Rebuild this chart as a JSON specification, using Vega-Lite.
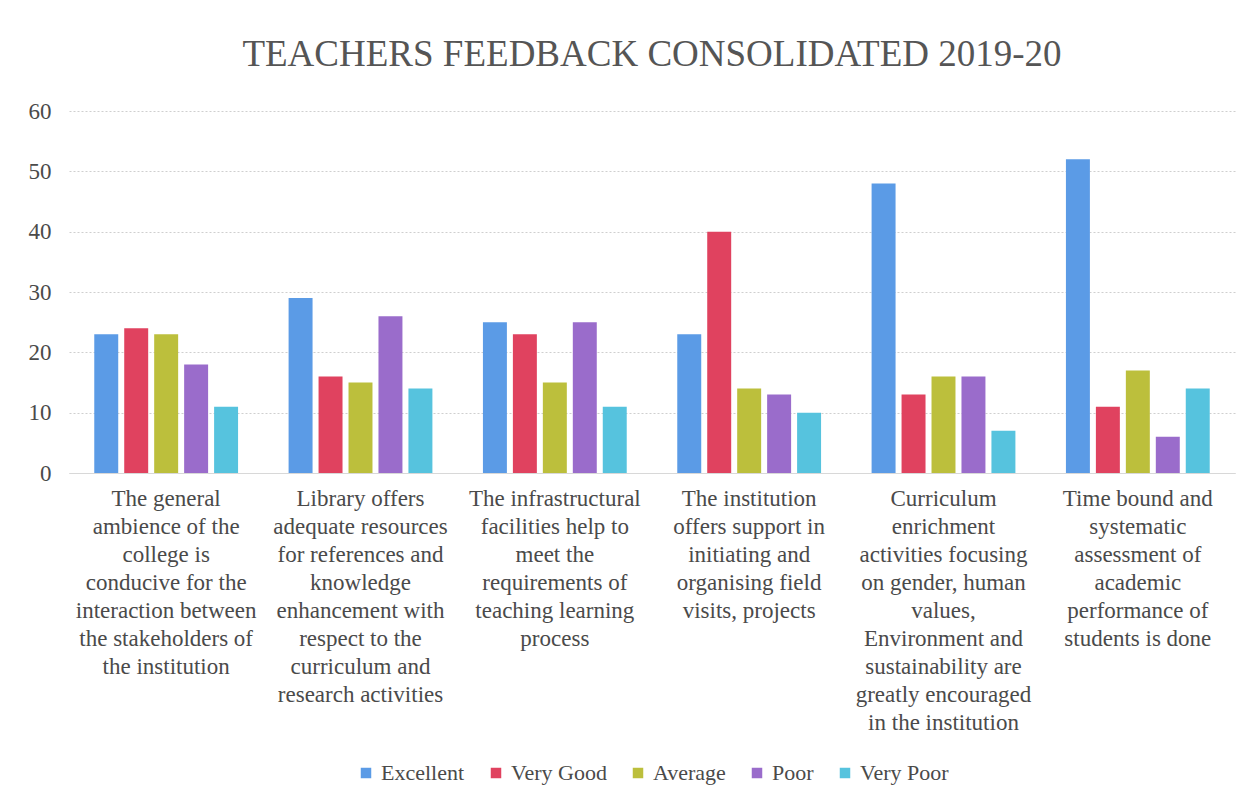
{
  "$schema": "https://vega.github.io/schema/vega-lite/v6.json",
  "width": 1245,
  "height": 800,
  "autosize": {"type": "fit", "contains": "padding"},
  "padding": {"left": 28, "top": 36, "right": 10, "bottom": 16},
  "background": "white",
  "title": {
    "text": "TEACHERS FEEDBACK CONSOLIDATED 2019-20",
    "font": "Liberation Serif, Times New Roman, serif",
    "fontSize": 37,
    "fontWeight": "normal",
    "color": "#555555",
    "anchor": "middle",
    "offset": 26
  },
  "data": {
    "values": [
      {"q": "The general|ambience of the|college is|conducive for the|interaction between|the stakeholders of|the institution", "o": 1, "rating": "Excellent", "count": 23},
      {"q": "The general|ambience of the|college is|conducive for the|interaction between|the stakeholders of|the institution", "o": 1, "rating": "Very Good", "count": 24},
      {"q": "The general|ambience of the|college is|conducive for the|interaction between|the stakeholders of|the institution", "o": 1, "rating": "Average", "count": 23},
      {"q": "The general|ambience of the|college is|conducive for the|interaction between|the stakeholders of|the institution", "o": 1, "rating": "Poor", "count": 18},
      {"q": "The general|ambience of the|college is|conducive for the|interaction between|the stakeholders of|the institution", "o": 1, "rating": "Very Poor", "count": 11},
      {"q": "Library offers|adequate resources|for references and|knowledge|enhancement with|respect to the|curriculum and|research activities", "o": 2, "rating": "Excellent", "count": 29},
      {"q": "Library offers|adequate resources|for references and|knowledge|enhancement with|respect to the|curriculum and|research activities", "o": 2, "rating": "Very Good", "count": 16},
      {"q": "Library offers|adequate resources|for references and|knowledge|enhancement with|respect to the|curriculum and|research activities", "o": 2, "rating": "Average", "count": 15},
      {"q": "Library offers|adequate resources|for references and|knowledge|enhancement with|respect to the|curriculum and|research activities", "o": 2, "rating": "Poor", "count": 26},
      {"q": "Library offers|adequate resources|for references and|knowledge|enhancement with|respect to the|curriculum and|research activities", "o": 2, "rating": "Very Poor", "count": 14},
      {"q": "The infrastructural|facilities help to|meet the|requirements of|teaching learning|process", "o": 3, "rating": "Excellent", "count": 25},
      {"q": "The infrastructural|facilities help to|meet the|requirements of|teaching learning|process", "o": 3, "rating": "Very Good", "count": 23},
      {"q": "The infrastructural|facilities help to|meet the|requirements of|teaching learning|process", "o": 3, "rating": "Average", "count": 15},
      {"q": "The infrastructural|facilities help to|meet the|requirements of|teaching learning|process", "o": 3, "rating": "Poor", "count": 25},
      {"q": "The infrastructural|facilities help to|meet the|requirements of|teaching learning|process", "o": 3, "rating": "Very Poor", "count": 11},
      {"q": "The institution|offers support in|initiating and|organising field|visits, projects", "o": 4, "rating": "Excellent", "count": 23},
      {"q": "The institution|offers support in|initiating and|organising field|visits, projects", "o": 4, "rating": "Very Good", "count": 40},
      {"q": "The institution|offers support in|initiating and|organising field|visits, projects", "o": 4, "rating": "Average", "count": 14},
      {"q": "The institution|offers support in|initiating and|organising field|visits, projects", "o": 4, "rating": "Poor", "count": 13},
      {"q": "The institution|offers support in|initiating and|organising field|visits, projects", "o": 4, "rating": "Very Poor", "count": 10},
      {"q": "Curriculum|enrichment|activities focusing|on gender, human|values,|Environment and|sustainability are|greatly encouraged|in the institution", "o": 5, "rating": "Excellent", "count": 48},
      {"q": "Curriculum|enrichment|activities focusing|on gender, human|values,|Environment and|sustainability are|greatly encouraged|in the institution", "o": 5, "rating": "Very Good", "count": 13},
      {"q": "Curriculum|enrichment|activities focusing|on gender, human|values,|Environment and|sustainability are|greatly encouraged|in the institution", "o": 5, "rating": "Average", "count": 16},
      {"q": "Curriculum|enrichment|activities focusing|on gender, human|values,|Environment and|sustainability are|greatly encouraged|in the institution", "o": 5, "rating": "Poor", "count": 16},
      {"q": "Curriculum|enrichment|activities focusing|on gender, human|values,|Environment and|sustainability are|greatly encouraged|in the institution", "o": 5, "rating": "Very Poor", "count": 7},
      {"q": "Time bound and|systematic|assessment of|academic|performance of|students is done", "o": 6, "rating": "Excellent", "count": 52},
      {"q": "Time bound and|systematic|assessment of|academic|performance of|students is done", "o": 6, "rating": "Very Good", "count": 11},
      {"q": "Time bound and|systematic|assessment of|academic|performance of|students is done", "o": 6, "rating": "Average", "count": 17},
      {"q": "Time bound and|systematic|assessment of|academic|performance of|students is done", "o": 6, "rating": "Poor", "count": 6},
      {"q": "Time bound and|systematic|assessment of|academic|performance of|students is done", "o": 6, "rating": "Very Poor", "count": 14}
    ]
  },
  "mark": {"type": "bar"},
  "encoding": {
    "x": {
      "field": "q",
      "type": "nominal",
      "sort": {"field": "o"},
      "scale": {"paddingInner": 0.26, "paddingOuter": 0.13},
      "axis": {
        "title": null,
        "labelAngle": 0,
        "labelExpr": "split(datum.label, '|')",
        "labelFont": "Liberation Serif, Times New Roman, serif",
        "labelFontSize": 23,
        "labelColor": "#4a4a4a",
        "labelLineHeight": 28,
        "labelLimit": 400,
        "labelPadding": 14,
        "labelBaseline": "top",
        "domain": true,
        "domainColor": "#d8d8d8",
        "ticks": false
      }
    },
    "xOffset": {
      "field": "rating",
      "type": "nominal",
      "sort": ["Excellent", "Very Good", "Average", "Poor", "Very Poor"],
      "scale": {"paddingInner": 0.2}
    },
    "y": {
      "field": "count",
      "type": "quantitative",
      "scale": {"domain": [0, 60]},
      "axis": {
        "title": null,
        "values": [0, 10, 20, 30, 40, 50, 60],
        "labelFont": "Liberation Serif, Times New Roman, serif",
        "labelFontSize": 23,
        "labelColor": "#4a4a4a",
        "labelPadding": 18,
        "domain": false,
        "ticks": false,
        "grid": true,
        "gridColor": "#cfcfcf",
        "gridDash": [2, 2],
        "gridWidth": 1
      }
    },
    "color": {
      "field": "rating",
      "type": "nominal",
      "sort": ["Excellent", "Very Good", "Average", "Poor", "Very Poor"],
      "scale": {
        "domain": ["Excellent", "Very Good", "Average", "Poor", "Very Poor"],
        "range": ["#5b9be6", "#e0425f", "#bcbf3c", "#9a6ccb", "#56c3de"]
      },
      "legend": {
        "title": null,
        "orient": "bottom",
        "direction": "horizontal",
        "symbolType": "square",
        "symbolSize": 110,
        "symbolStrokeWidth": 0,
        "labelFont": "Liberation Serif, Times New Roman, serif",
        "labelFontSize": 22,
        "labelColor": "#4a4a4a",
        "labelOffset": 4,
        "columnPadding": 20,
        "offset": 28
      }
    }
  },
  "config": {
    "view": {"stroke": null},
    "legend": {"layout": {"bottom": {"anchor": "middle"}}}
  }
}
